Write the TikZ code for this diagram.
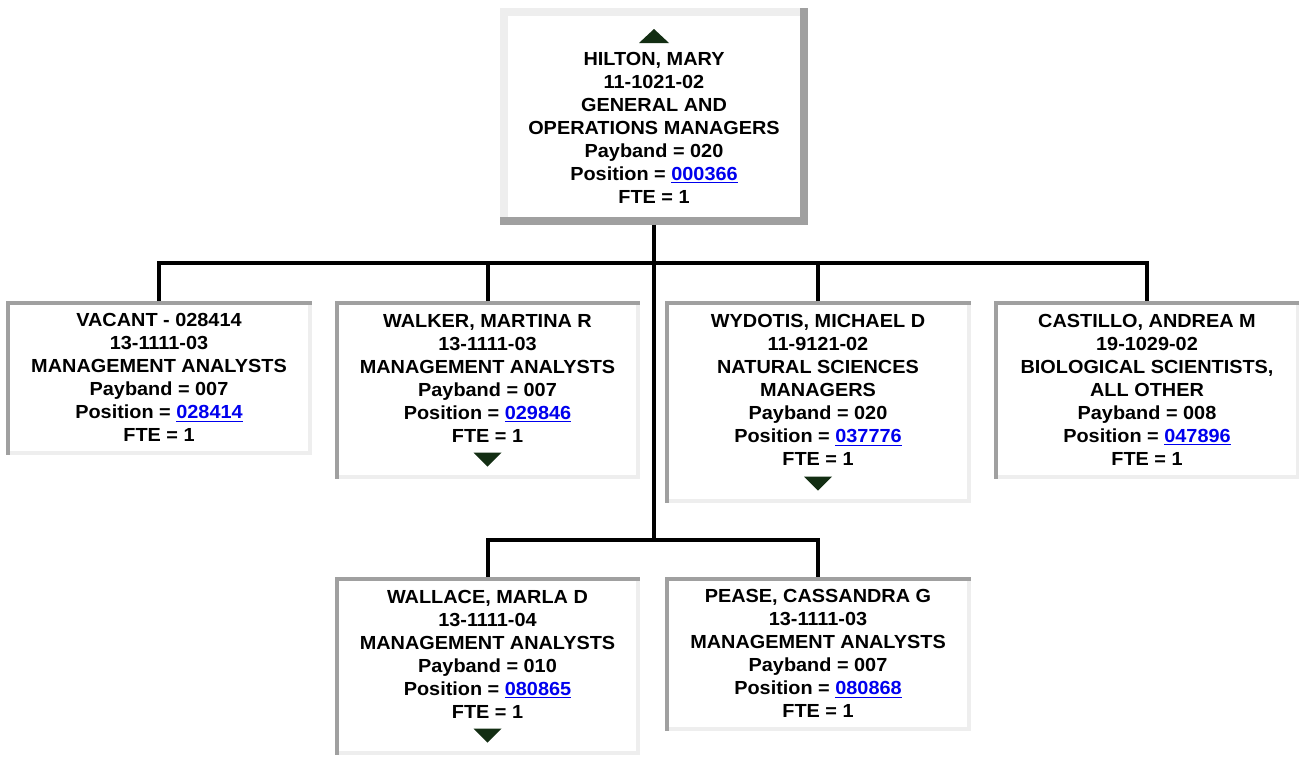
\documentclass[tikz,border=0pt]{standalone}
\usepackage{fontspec}
\setmainfont{Liberation Sans}[FakeStretch=1.05]
\usetikzlibrary{positioning}
\definecolor{edgedark}{HTML}{A0A0A0}
\definecolor{edgelight}{HTML}{EEEEEE}
\definecolor{linkblue}{HTML}{0000EE}
\definecolor{arrowgreen}{HTML}{132E13}
\newcommand{\poslink}[1]{{\color{linkblue}\underline{#1}}}

\begin{document}
\begin{tikzpicture}[x=0.75pt,y=-0.75pt,
  card/.style={fill=white,anchor=north,align=center,inner sep=0pt,minimum width=228.75pt,
    font=\bfseries\fontsize{14.2}{17.25}\selectfont},
  link/.style={line width=3pt}]
\useasboundingbox (0,0) rectangle (1299,761);

\node[card,minimum width=231pt,minimum height=162pt] (hilton) at (654,8) {\vphantom{H}\\HILTON, MARY\\11-1021-02\\GENERAL AND\\OPERATIONS MANAGERS\\Payband = 020\\Position = \poslink{000366}\\FTE = 1};

\node[card,minimum height=114.75pt] (vacant) at (159,301) {VACANT - 028414\\13-1111-03\\MANAGEMENT ANALYSTS\\Payband = 007\\Position = \poslink{028414}\\FTE = 1};
\node[card,minimum height=132.75pt] (walker) at (487.5,301) {WALKER, MARTINA R\\13-1111-03\\MANAGEMENT ANALYSTS\\Payband = 007\\Position = \poslink{029846}\\FTE = 1\\\vphantom{1}};
\node[card,minimum height=150.75pt] (wydotis) at (818,301) {WYDOTIS, MICHAEL D\\11-9121-02\\NATURAL SCIENCES\\MANAGERS\\Payband = 020\\Position = \poslink{037776}\\FTE = 1\\\vphantom{1}};
\node[card,minimum height=132.75pt] (castillo) at (1147,301) {CASTILLO, ANDREA M\\19-1029-02\\BIOLOGICAL SCIENTISTS,\\ALL OTHER\\Payband = 008\\Position = \poslink{047896}\\FTE = 1};

\node[card,minimum height=132.75pt] (wallace) at (487.5,577) {WALLACE, MARLA D\\13-1111-04\\MANAGEMENT ANALYSTS\\Payband = 010\\Position = \poslink{080865}\\FTE = 1\\\vphantom{1}};
\node[card,minimum height=114.75pt] (pease) at (818,577) {PEASE, CASSANDRA G\\13-1111-03\\MANAGEMENT ANALYSTS\\Payband = 007\\Position = \poslink{080868}\\FTE = 1};

% raised frame of the head box
\fill[edgelight] (hilton.north west) rectangle ([shift={(0,8)}]hilton.north east);
\fill[edgelight] (hilton.north west) rectangle ([shift={(8,0)}]hilton.south west);
\fill[edgedark] (hilton.north east) rectangle ([shift={(-8,0)}]hilton.south east);
\fill[edgedark] (hilton.south west) rectangle ([shift={(0,-8)}]hilton.south east);

% sunken frames
\foreach \n in {vacant,walker,wydotis,castillo,wallace,pease}{
  \fill[edgelight] (\n.north east) rectangle ([shift={(-4,0)}]\n.south east);
  \fill[edgelight] (\n.south west) rectangle ([shift={(0,-4)}]\n.south east);
  \fill[edgedark] (\n.north west) rectangle ([shift={(4,0)}]\n.south west);
  \fill[edgedark] (\n.north west) rectangle ([shift={(0,4)}]\n.north east);
}

% expand / collapse marks
\fill[arrowgreen] ([shift={(-15,35)}]hilton.north) -- ([shift={(15,35)}]hilton.north) -- ([shift={(0,21)}]hilton.north) -- cycle;
\foreach \n in {walker,wydotis,wallace}
  \fill[arrowgreen] ([shift={(-14,-26)}]\n.south) -- ([shift={(14,-26)}]\n.south) -- ([shift={(0,-12)}]\n.south) -- cycle;

% reporting lines
\coordinate (bus) at (654,263);
\coordinate (lowbus) at (654,540);
\draw[link] (hilton.south) -- (lowbus);
\draw[link] (vacant.north) |- (bus) -| (castillo.north);
\draw[link] (walker.north) -- (walker.north |- bus);
\draw[link] (wydotis.north) -- (wydotis.north |- bus);
\draw[link] (wallace.north) |- (lowbus) -| (pease.north);
\end{tikzpicture}
\end{document}
